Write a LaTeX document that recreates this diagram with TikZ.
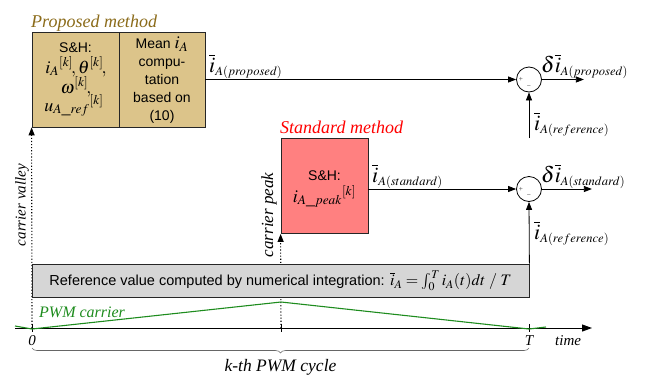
\documentclass[tikz,border=0pt]{standalone}
\usepackage{mathptmx}
\usepackage{fontspec}
\setmainfont{Liberation Serif}
\setsansfont{Liberation Sans}
\usetikzlibrary{arrows.meta,decorations.pathreplacing,calc}
\definecolor{tanfill}{HTML}{DCC48A}
\definecolor{salmonfill}{HTML}{FF8080}
\definecolor{olivetext}{HTML}{8B6B1A}
\definecolor{pwmgreen}{HTML}{1E8C1E}
\definecolor{refgray}{HTML}{D6D6D6}
\newcommand{\bigI}{\overline{\mbox{\fontsize{22}{24}\selectfont$i$}}}
\newcommand{\bigD}{\mbox{\fontsize{22}{24}\selectfont$\delta$}}
\begin{document}
\begin{tikzpicture}[x=1pt,y=-1pt,
  every node/.style={inner sep=0pt},
  blk/.style={draw=black!85, line width=0.8pt, minimum width=87, minimum height=95},
  bt/.style={font=\sffamily\fontsize{14}{18}\selectfont, align=center},
  bm/.style={font=\fontsize{18}{20}\selectfont},
  sig/.style={line width=0.8pt, -{Triangle[length=8pt,width=6pt]}},
  sumnode/.style={circle, draw, line width=0.8pt, minimum size=25pt},
  lbl/.style={font=\fontsize{17}{20}\selectfont},
  ttl/.style={font=\itshape\fontsize{18}{21}\selectfont},
  pm/.style={font=\sffamily\fontsize{7}{8}\selectfont, text=black!60},
  dotl/.style={dotted, line width=1.1pt, -{Triangle[length=8pt,width=6pt]}}]
\path[use as bounding box] (0,0) rectangle (661,383);

% titles
\node[ttl, text=olivetext, anchor=base west] (tprop) at (31,27) {Proposed method};
\node[ttl, text=red, anchor=base west] (tstd) at (280,133) {Standard method};

% proposed blocks
\node[blk, fill=tanfill] (sh) at (75.5,79.5) {};
\node[blk, fill=tanfill, minimum width=86] (mean) at (162,79.5) {};
\node[bt, anchor=base] (sh1) at (75.5,52) {S\&H:};
\node[bm, anchor=base] (sh2) at (76,73) {$i_A{}^{[k]}\!,\theta^{[k]}\!,$};
\node[bm, anchor=base] (sh3) at (76,93) {$\omega^{[k]}\!,$};
\node[bm, anchor=base] (sh4) at (74,111) {$u_{A\_ref}{}^{[k]}$};
\node[bt, anchor=north] (mt) at (162,37)
  {Mean {\fontsize{18}{18}\selectfont$i_A$}\\ compu-\\ tation\\ based on\\ (10)};

% standard block
\node[blk, fill=salmonfill] (std) at (324.5,186) {};
\node[bt, anchor=base] (st1) at (324.5,180) {S\&H:};
\node[bm, anchor=base] (st2) at (324.5,202) {$i_{A\_peak}{}^{[k]}$};

% summing junctions
\node[sumnode] (s1) at (529,79.5) {};
\node[sumnode] (s2) at (529,189) {};
\node[pm] (p1) at (521,79.5) {+};
\node[pm] (m1) at (529,87) {\textminus};
\node[pm] (p2) at (521,189) {+};
\node[pm] (m2) at (529,196.5) {\textminus};

% time axis coordinates
\coordinate (ax0) at (15,328);
\coordinate (ax1) at (592,328);
\coordinate (t0) at (32,328);
\coordinate (tp) at (281,328);
\coordinate (tT) at (529,328);
\draw[dotl] (t0) -- (sh.south west);
\draw[dotl] (tp) -- (std.south west);

% reference box
\node[draw=black!85, line width=0.8pt, fill=refgray, minimum width=497, minimum height=33,
  font=\sffamily\fontsize{14.5}{16}\selectfont] (ref) at (280.5,280.5)
  {Reference value computed by numerical integration: {\fontsize{16}{18}\selectfont$\overline{i}_A=\int_0^T i_A(t)dt\;/\;T$}};

% signal flows
\draw[sig] (mean.east) -- (s1.west);
\draw[sig] (s1.east) -- ++(42,0) coordinate (o1);
\coordinate (r1) at (529,138);
\draw[sig] (r1) -- (s1.south);
\draw[sig] (std.east |- s2) -- (s2.west);
\draw[sig] (s2.east) -- ++(50,0) coordinate (o2);
\draw[sig] (ref.north east) -- (s2.south);

% signal labels
\node[lbl, anchor=base west] (l1) at (209,72) {$\bigI_{A(proposed)}$};
\node[lbl, anchor=base west] (l2) at (541,72) {$\bigD\bigI_{A(proposed)}$};
\node[lbl, anchor=base west] (l3) at (534,130) {$\bigI_{A(reference)}$};
\node[lbl, anchor=base west] (l4) at (372,182) {$\bigI_{A(standard)}$};
\node[lbl, anchor=base west] (l5) at (541,182) {$\bigD\bigI_{A(standard)}$};
\node[lbl, anchor=base west] (l6) at (534,239) {$\bigI_{A(reference)}$};

% axis
\draw[line width=1pt, -{Triangle[length=10pt,width=7pt]}] (ax0) -- (ax1);
\foreach \c in {t0,tp,tT} \draw[line width=1pt] ($(\c)+(0,-4)$) -- ($(\c)+(0,4)$);
\draw[pwmgreen, line width=1.1pt] (15,326) -- (32,329) -- (281,302) -- (529,329) -- (546,327);
\node[font=\itshape\fontsize{16}{18}\selectfont, text=pwmgreen, anchor=base west] (pwm) at (39,317) {PWM carrier};

% axis labels
\node[font=\itshape\fontsize{15}{17}\selectfont, anchor=base] (z) at (32,345) {0};
\node[font=\itshape\fontsize{15}{17}\selectfont, anchor=base] (T) at (529,345) {T};
\node[font=\itshape\fontsize{15}{17}\selectfont, anchor=base west] (time) at (555,345) {time};
\draw[black!60, line width=0.6pt, decorate, decoration={brace, mirror, amplitude=5pt}] (32,348) -- (529,348);
\node[font=\itshape\fontsize{17.5}{20}\selectfont, anchor=base] (kth) at (280.5,371) {k-th PWM cycle};

% rotated labels
\node[font=\itshape\fontsize{15}{18}\selectfont, rotate=90] (cv) at (22,205) {carrier valley};
\node[font=\itshape\fontsize{17}{20}\selectfont, rotate=90] (cp) at (269,215) {carrier peak};
\end{tikzpicture}
\end{document}
